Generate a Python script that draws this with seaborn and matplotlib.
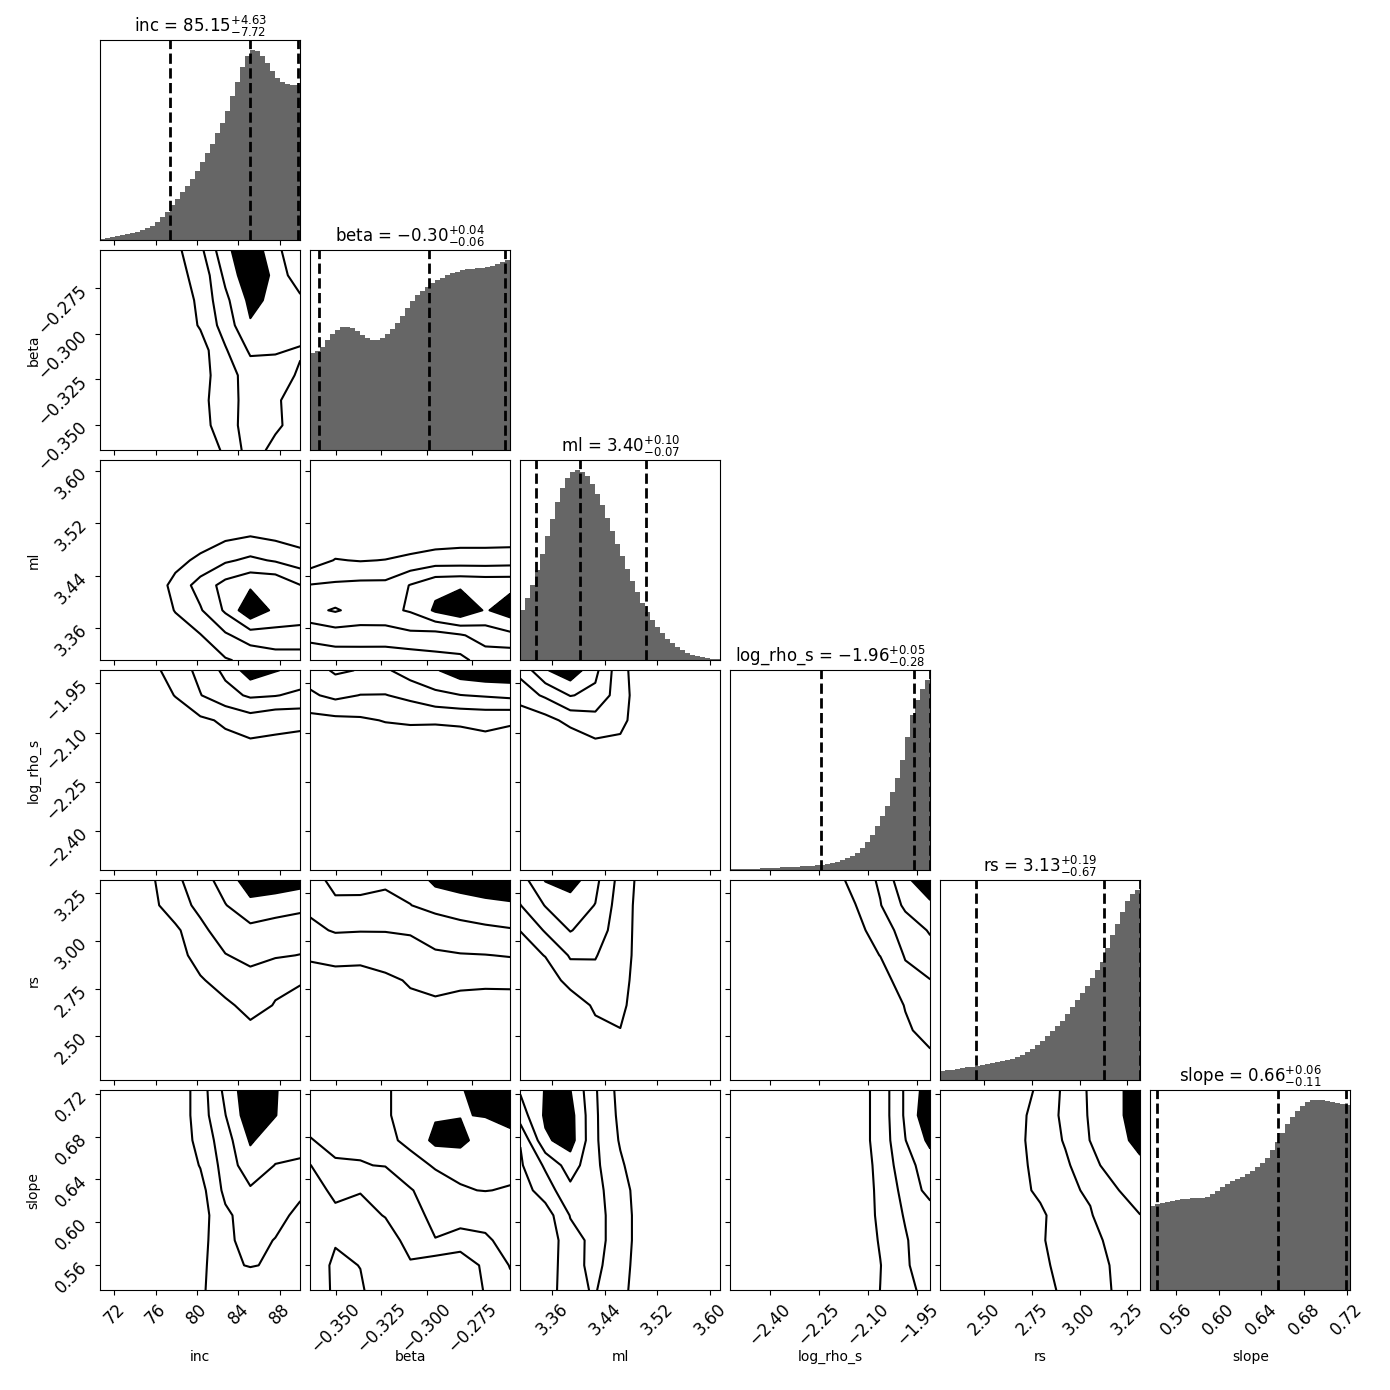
import numpy as np
import pandas as pd
import matplotlib
matplotlib.use("Agg")
import matplotlib.pyplot as plt
import seaborn as sns

# parametros do ajuste
labels = ["inc", "beta", "ml", "log_rho_s", "rs", "slope"]
ranges = [(70.65, 90.0), (-0.364, -0.254), (3.311, 3.616),
          (-2.52, -1.91), (2.269, 3.318), (0.536, 0.7234)]
ticks = [[72, 76, 80, 84, 88],
         [-0.350, -0.325, -0.300, -0.275],
         [3.36, 3.44, 3.52, 3.60],
         [-2.40, -2.25, -2.10, -1.95],
         [2.50, 2.75, 3.00, 3.25],
         [0.56, 0.60, 0.64, 0.68, 0.72]]

# quantis 16, 50, 84
q16 = [77.43, -0.359, 3.335, -2.243, 2.458, 0.542]
q50 = [85.15, -0.299, 3.402, -1.960, 3.128, 0.656]
q84 = [89.78, -0.257, 3.502, -1.912, 3.315, 0.7191]

# histogramas marginais (40 bins sobre o intervalo de cada parametro)
hist_inc = [1, 2, 3, 4, 5, 6, 7, 8, 10, 12, 14, 18, 23, 28, 35, 41, 48, 54, 61, 69,
            78, 87, 96, 106, 116, 128, 143, 157, 172, 183, 189, 188, 183, 176, 168, 161, 157, 155, 154, 154]
hist_beta = [97, 99, 103, 110, 116, 120, 123, 123, 122, 119, 115, 112, 110, 110, 112, 116, 121, 127, 134, 142,
             149, 155, 159, 163, 167, 170, 172, 175, 177, 178, 180, 181, 181, 182, 182, 183, 184, 186, 188, 190]
hist_ml = [50, 62, 75, 90, 106, 124, 141, 158, 172, 182, 188, 190, 188, 184, 176, 166, 155, 142, 129, 116,
           104, 91, 79, 68, 57, 48, 40, 33, 27, 21, 17, 13, 10, 7, 5, 4, 3, 2, 1, 1]
hist_logrho = [1, 1, 1, 1, 1.5, 1.5, 2, 2, 2, 2.5, 3, 3, 3.5, 3.5, 4, 4, 4.5, 5, 5, 6,
               7, 8, 10, 12, 14, 17, 22, 28, 35, 44, 54, 64, 78, 92, 110, 133, 155, 170, 181, 190]
hist_rs = [9, 10, 10.5, 11, 12, 13, 13.5, 14.5, 15.5, 16.5, 17, 18, 19, 20, 21, 23, 25, 28, 31, 35,
           39, 44, 49, 54, 59, 66, 73, 80, 87, 94, 102, 110, 118, 132, 145, 156, 168, 179, 186, 190]
hist_slope = [84, 86, 87, 88, 89, 90, 91, 91, 92, 92, 92, 93, 96, 99, 103, 106, 109, 111, 113, 116,
              119, 123, 127, 132, 140, 148, 157, 166, 173, 179, 184, 188, 190, 190, 190, 189, 188, 187, 186, 185]
hists = [hist_inc, hist_beta, hist_ml, hist_logrho, hist_rs, hist_slope]

# densidades 2D em grade 9x9 (linhas de cima para baixo, colunas da esquerda para a direita)
dens_beta_inc = [[0, 0, 0, 1, 3, 7, 9, 6, 4],
                 [0, 0, 0, 1, 2, 6, 9, 7, 4],
                 [0, 0, 0, 0, 2, 5, 8, 7, 6],
                 [0, 0, 0, 0, 1.7, 4.4, 7.3, 6.5, 6],
                 [0, 0, 0, 0, 0.6, 3.3, 5.8, 5.6, 5.4],
                 [0, 0, 0, 0, 0.8, 2.5, 4.5, 5, 5.65],
                 [0, 0, 0, 0, 1.0, 2.5, 4.4, 5, 7.2],
                 [0, 0, 0, 0, 0.8, 2.5, 4.5, 5.1, 6.5],
                 [0, 0, 0, 0, 0.3, 1.8, 4.4, 6.2, 6.5]]
dens_ml_inc = [[0, 0, 0, 0, 0, 0, 0, 0, 0],
               [0, 0, 0, 0, 0, 0, 0, 0, 0],
               [0, 0, 0, 0, 0, 0, 0, 0, 0],
               [0, 0, 0, 0, 0.2, 1, 1.4, 1, 0.5],
               [0, 0, 0, 0.8, 2, 3.2, 3.9, 3.3, 2.5],
               [0, 0, 0, 2.2, 4.3, 6.2, 7.2, 7.2, 5.55],
               [0, 0, 0, 1.6, 3.3, 5.8, 9, 7.0, 6.5],
               [0, 0, 0, 0.5, 1.4, 3.2, 4.5, 4.8, 4.8],
               [0, 0, 0, 0, 0.5, 1.3, 2, 2.5, 2.5]]
dens_ml_beta = [[0, 0, 0, 0, 0, 0, 0, 0, 0],
                [0, 0, 0, 0, 0, 0, 0, 0, 0],
                [0, 0, 0, 0, 0, 0, 0, 0, 0],
                [0, 0, 0, 0, 0, 0.2, 0.5, 0.5, 0.5],
                [0.5, 1.6, 1.4, 1.55, 2, 2.5, 2.5, 2.5, 2.6],
                [3.6, 3.8, 4.0, 4.0, 5.6, 7, 7.2, 7.0, 7.0],
                [5, 5.7, 4.8, 5.0, 5.7, 7.8, 9, 7.3, 8.5],
                [2, 2.5, 2.6, 2.5, 3.0, 2.7, 3.3, 4.3, 5.0],
                [0.3, 0.3, 0.2, 0.3, 0.3, 0.85, 0.9, 2.5, 2.0]]
dens_logrho_inc = [[0, 0, 0.8, 2.5, 4.0, 6.0, 8.5, 7.6, 7.0],
                   [0, 0, 0, 1.6, 3.43, 4.78, 5.8, 5.6, 5.05],
                   [0, 0, 0, 0, 1.13, 1.8, 2.56, 1.9, 2.1],
                   [0, 0, 0, 0, 0, 0.92, 1.1, 1.2, 0.7],
                   [0, 0, 0, 0, 0, 0, 0, 0, 0],
                   [0, 0, 0, 0, 0, 0, 0, 0, 0],
                   [0, 0, 0, 0, 0, 0, 0, 0, 0],
                   [0, 0, 0, 0, 0, 0, 0, 0, 0],
                   [0, 0, 0, 0, 0, 0, 0, 0, 0]]
dens_logrho_beta = [[4.5, 5.8, 5.4, 5.2, 6.5, 7.3, 8.6, 9, 9],
                    [3.2, 4.0, 3.45, 3.43, 4.0, 5.0, 5.45, 5.7, 6.0],
                    [0.8, 1.0, 1.2, 1.6, 1.8, 1.7, 1.8, 1.9, 1.7],
                    [0, 0, 0, 0.3, 0.2, 0.5, 0.6, 1.0, 0.8],
                    [0, 0, 0, 0, 0, 0, 0, 0, 0],
                    [0, 0, 0, 0, 0, 0, 0, 0, 0],
                    [0, 0, 0, 0, 0, 0, 0, 0, 0],
                    [0, 0, 0, 0, 0, 0, 0, 0, 0],
                    [0, 0, 0, 0, 0, 0, 0, 0, 0]]
dens_logrho_ml = [[4.0, 7.3, 8.8, 6.0, 2.2, 0, 0, 0, 0],
                  [2.5, 3.8, 5.6, 5.0, 2.4, 0, 0, 0, 0],
                  [0, 0.8, 2.1, 2.7, 2.1, 0, 0, 0, 0],
                  [0, 0, 0, 1.06, 1.0, 0, 0, 0, 0],
                  [0, 0, 0, 0, 0, 0, 0, 0, 0],
                  [0, 0, 0, 0, 0, 0, 0, 0, 0],
                  [0, 0, 0, 0, 0, 0, 0, 0, 0],
                  [0, 0, 0, 0, 0, 0, 0, 0, 0],
                  [0, 0, 0, 0, 0, 0, 0, 0, 0]]
dens_rs_inc = [[0, 0, 1.1, 3.2, 4.27, 6.64, 8.3, 8.5, 8.3],
               [0, 0, 0.9, 2.6, 4.0, 5.4, 7.1, 6.58, 5.9],
               [0, 0, 0.5, 1.1, 3.0, 4.5, 4.88, 4.42, 4.6],
               [0, 0, 0, 0.5, 2.5, 3.42, 4.0, 3.7, 3.45],
               [0, 0, 0, 0, 1.25, 2.5, 2.89, 1.9, 1.6],
               [0, 0, 0, 0, 0.5, 1.07, 2.2, 1.4, 1.1],
               [0, 0, 0, 0, 0, 0.3, 1.0, 0.5, 0.3],
               [0, 0, 0, 0, 0, 0, 0.3, 0, 0],
               [0, 0, 0, 0, 0, 0, 0, 0, 0]]
dens_rs_beta = [[4.0, 6.5, 6.5, 6.2, 6.0, 8.0, 9, 9, 9],
                [4.0, 4.83, 4.8, 4.3, 5.47, 6.0, 6.0, 6.86, 7.2],
                [2.97, 3.7, 3.6, 3.6, 3.7, 4.5, 5.15, 5.1, 5.33],
                [2.0, 1.7, 1.7, 2.0, 2.7, 3.2, 3.36, 3.45, 3.6],
                [0, 1.25, 1.2, 1.28, 1.6, 2.4, 2.2, 2.0, 2.17],
                [0, 0.5, 0.5, 0.5, 1.28, 1.0, 0.5, 0.53, 0.3],
                [0, 0, 0, 0, 0.3, 0.3, 0, 0, 0],
                [0, 0, 0, 0, 0, 0, 0, 0, 0],
                [0, 0, 0, 0, 0, 0, 0, 0, 0]]
dens_rs_ml = [[4.5, 7.6, 8.5, 6.0, 2.8, 0.5, 0, 0, 0],
              [3.45, 5.6, 6.4, 5.45, 2.5, 0.5, 0, 0, 0],
              [1.55, 3.7, 5.6, 4.5, 2.5, 0.4, 0, 0, 0],
              [0.3, 1.6, 3.7, 3.6, 2.4, 0.4, 0, 0, 0],
              [0, 0, 2.4, 3.0, 2.2, 0.3, 0, 0, 0],
              [0, 0, 0, 1.9, 2.0, 0, 0, 0, 0],
              [0, 0, 0, 0.9, 1.45, 0, 0, 0, 0],
              [0, 0, 0, 0, 0, 0, 0, 0, 0],
              [0, 0, 0, 0, 0, 0, 0, 0, 0]]
dens_rs_logrho = [[0, 0, 0, 0, 0.5, 2.2, 3.8, 7.0, 9],
                  [0, 0, 0, 0, 0, 1.45, 3.4, 5.9, 7.1],
                  [0, 0, 0, 0, 0, 0.8, 2.5, 4.3, 5.7],
                  [0, 0, 0, 0, 0, 0.3, 1.55, 3.65, 4.7],
                  [0, 0, 0, 0, 0, 0, 0.3, 2.9, 3.45],
                  [0, 0, 0, 0, 0, 0, 0, 1.6, 2.8],
                  [0, 0, 0, 0, 0, 0, 0, 1.2, 2.2],
                  [0, 0, 0, 0, 0, 0, 0, 0, 1.24],
                  [0, 0, 0, 0, 0, 0, 0, 0, 1.0]]
dens_slope_inc = [[0, 0, 0, 0, 2.5, 6.0, 9, 7.6, 6.5],
                  [0, 0, 0, 0, 2.5, 5.45, 8.8, 7.55, 6.3],
                  [0, 0, 0, 0, 2.2, 4.6, 7.7, 6.5, 6.0],
                  [0, 0, 0, 0, 1.6, 4.3, 6.7, 5.44, 5.3],
                  [0, 0, 0, 0, 0.8, 4.0, 5.25, 4.5, 3.8],
                  [0, 0, 0, 0, 0.6, 3.1, 4.5, 4.0, 3.1],
                  [0, 0, 0, 0, 0.7, 3.2, 4.0, 3.44, 2.8],
                  [0, 0, 0, 0, 0.9, 3.2, 3.6, 3.3, 2.6],
                  [0, 0, 0, 0, 1.0, 3.4, 2.2, 2.5, 2.5]]
dens_slope_beta = [[4.5, 4.6, 4.8, 5.2, 6.5, 7.0, 7.2, 9, 9],
                   [4.0, 4.3, 4.5, 5.2, 6.5, 7.3, 7.4, 7.6, 8.5],
                   [3.43, 3.9, 3.7, 5.0, 6.0, 8.0, 8.2, 6.17, 6.54],
                   [1.45, 3.33, 3.45, 3.55, 4.75, 5.7, 5.8, 6.0, 6.0],
                   [0.5, 2.0, 1.6, 2.5, 3.36, 4.5, 5.4, 5.55, 5.37],
                   [0, 1.0, 0.83, 1.6, 2.8, 4.0, 4.3, 4.0, 4.5],
                   [0, 1.3, 0.8, 0.5, 2.2, 3.44, 2.76, 3.29, 4.0],
                   [0, 1.97, 1.45, 0, 1.29, 0.3, 0, 2.0, 3.6],
                   [0, 1.9, 1.8, 0, 0.5, 0, 0, 1.65, 3.0]]
dens_slope_ml = [[5.7, 7.6, 7.55, 3.7, 0.8, 0, 0, 0, 0],
                 [4.5, 7.8, 8.2, 3.8, 1.0, 0, 0, 0, 0],
                 [1.6, 7.2, 8.3, 3.8, 1.3, 0, 0, 0, 0],
                 [1.23, 3.8, 6.5, 3.9, 1.8, 0, 0, 0, 0],
                 [0.5, 2.5, 4.96, 4.0, 2.5, 0, 0, 0, 0],
                 [0, 0.5, 3.6, 4.0, 2.8, 0, 0, 0, 0],
                 [0, 0, 2.83, 4.0, 2.8, 0, 0, 0, 0],
                 [0, 0, 3.0, 3.9, 2.5, 0, 0, 0, 0],
                 [0, 0, 3.2, 3.6, 2.2, 0, 0, 0, 0]]
dens_slope_logrho = [[0, 0, 0, 0, 0, 0.5, 2.2, 5.8, 8.7],
                     [0, 0, 0, 0, 0, 0.5, 2.2, 5.8, 9.2],
                     [0, 0, 0, 0, 0, 0.5, 2.2, 5.45, 8.0],
                     [0, 0, 0, 0, 0, 0.4, 2.0, 4.8, 6.5],
                     [0, 0, 0, 0, 0, 0.3, 1.9, 4.15, 6.2],
                     [0, 0, 0, 0, 0, 0.2, 1.85, 3.68, 4.5],
                     [0, 0, 0, 0, 0, 0.2, 1.65, 3.3, 5.0],
                     [0, 0, 0, 0, 0, 0.1, 1.45, 3.2, 4.9],
                     [0, 0, 0, 0, 0, 0.1, 1.52, 2.6, 4.6]]
dens_slope_rs = [[0, 0, 0, 0.5, 1.89, 3.93, 5.78, 6.5, 9.5],
                 [0, 0, 0, 0.8, 2.35, 3.93, 5.71, 6.5, 9.5],
                 [0, 0, 0, 0.9, 2.4, 3.66, 5.55, 6.3, 8.5],
                 [0, 0, 0, 0.8, 2.2, 3.2, 4.7, 6.7, 6.8],
                 [0, 0, 0, 0.6, 2.0, 3.0, 3.83, 5.2, 7.2],
                 [0, 0, 0, 0.3, 1.0, 3.0, 3.3, 5.3, 5.45],
                 [0, 0, 0, 0.2, 1.1, 3.1, 3.3, 3.7, 4.3],
                 [0, 0, 0, 0.1, 0.9, 2.4, 2.8, 3.71, 4.0],
                 [0, 0, 0, 0, 0.6, 2.0, 2.5, 3.68, 3.9]]

dens = {(1, 0): dens_beta_inc,
        (2, 0): dens_ml_inc, (2, 1): dens_ml_beta,
        (3, 0): dens_logrho_inc, (3, 1): dens_logrho_beta, (3, 2): dens_logrho_ml,
        (4, 0): dens_rs_inc, (4, 1): dens_rs_beta, (4, 2): dens_rs_ml, (4, 3): dens_rs_logrho,
        (5, 0): dens_slope_inc, (5, 1): dens_slope_beta, (5, 2): dens_slope_ml,
        (5, 3): dens_slope_logrho, (5, 4): dens_slope_rs}
levels = [1.5, 3.5, 5.5, 7.5]

n = len(labels)
fig, axes = plt.subplots(n, n, figsize=(13.9, 13.9), dpi=100)
fig.subplots_adjust(left=0.0722, right=0.9714, bottom=0.0717, top=0.9710,
                    wspace=0.05, hspace=0.05)

for i in range(n):
    for j in range(n):
        ax = axes[i, j]
        if j > i:
            ax.axis("off")
            continue

        if i == j:
            lo, hi = ranges[i]
            edges = np.linspace(lo, hi, len(hists[i]) + 1)
            df = pd.DataFrame({"valor": 0.5 * (edges[1:] + edges[:-1]),
                               "peso": np.asarray(hists[i], dtype=float)})
            sns.histplot(data=df, x="valor", weights="peso", bins=list(edges),
                         element="step", fill=True, color="0.4", alpha=1.0,
                         linewidth=0, ax=ax)
            for q in (q16[i], q50[i], q84[i]):
                ax.axvline(q, color="k", ls="--", lw=2)
            ax.set_xlim(lo, hi)
            ax.set_ylim(0, 1.05 * max(hists[i]))
            ax.set_yticks([])
            ax.set_ylabel("")
            up = q84[i] - q50[i]
            dn = q50[i] - q16[i]
            title = f"{labels[i]} = ${q50[i]:.2f}^{{+{up:.2f}}}_{{-{dn:.2f}}}$"
            ax.set_title(title, fontsize=12)
        else:
            xs = np.linspace(*ranges[j], 9)
            ys = np.linspace(*ranges[i], 9)
            z = np.flipud(np.array(dens[(i, j)], dtype=float))
            ax.contourf(xs, ys, z, levels=[levels[-1], 100], colors="k")
            ax.contour(xs, ys, z, levels=levels, colors="k", linewidths=1.5)
            ax.set_xlim(*ranges[j])
            ax.set_ylim(*ranges[i])
            ax.set_yticks(ticks[i])
            if j == 0:
                ax.set_ylabel(labels[i], fontsize=10)
                ax.yaxis.set_label_coords(-0.3, 0.5)
                for t in ax.get_yticklabels():
                    t.set_rotation(45)
                    t.set_fontsize(12)
            else:
                ax.set_yticklabels([])

        ax.set_xticks(ticks[j])
        if i == n - 1:
            ax.set_xlabel(labels[j], fontsize=10)
            ax.xaxis.set_label_coords(0.5, -0.3)
            for t in ax.get_xticklabels():
                t.set_rotation(45)
                t.set_fontsize(12)
        else:
            ax.set_xticklabels([])
            ax.set_xlabel("")

fig.savefig("out.png", dpi=100)
